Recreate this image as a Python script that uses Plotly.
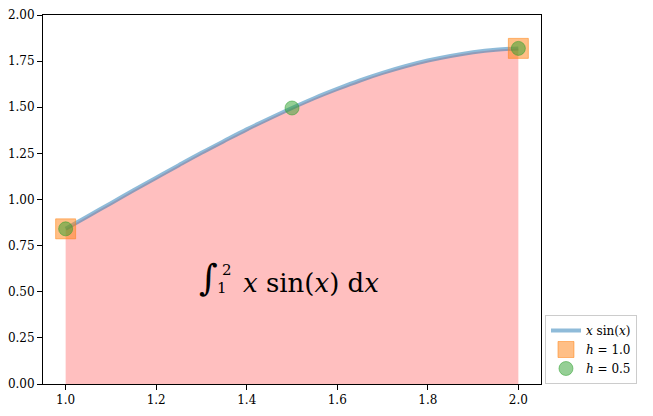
import plotly.graph_objects as go

# Data
x_curve = [1.00, 1.05, 1.10, 1.15, 1.20, 1.25, 1.30, 1.35, 1.40, 1.45, 1.50,
           1.55, 1.60, 1.65, 1.70, 1.75, 1.80, 1.85, 1.90, 1.95, 2.00]
y_curve = [0.841, 0.911, 0.980, 1.050, 1.118, 1.186, 1.253, 1.317, 1.380, 1.439, 1.496,
           1.550, 1.599, 1.645, 1.686, 1.722, 1.753, 1.778, 1.798, 1.812, 1.819]
x_h1 = [1.0, 2.0]
y_h1 = [0.841, 1.819]
x_h05 = [1.0, 1.5, 2.0]
y_h05 = [0.841, 1.496, 1.819]
x_ticks = [1.0, 1.2, 1.4, 1.6, 1.8, 2.0]
y_ticks = [0.0, 0.25, 0.5, 0.75, 1.0, 1.25, 1.5, 1.75, 2.0]
label_x = 1.5
label_y = 0.5

FONT = "DejaVu Serif"

fig = go.Figure()
fig.add_trace(go.Scatter(x=x_curve, y=y_curve, mode="lines", fill="tozeroy",
                         fillcolor="rgba(255,0,0,0.25)", line=dict(width=0, shape="spline"),
                         showlegend=False, hoverinfo="skip"))
fig.add_trace(go.Scatter(x=x_curve, y=y_curve, mode="lines", name="<i>x</i> sin(<i>x</i>)",
                         line=dict(color="rgba(31,119,180,0.5)", width=4, shape="spline")))
fig.add_trace(go.Scatter(x=x_h1, y=y_h1, mode="markers", name="<i>h</i> = 1.0",
                         marker=dict(symbol="square", size=20, color="rgba(255,127,14,0.5)",
                                     line=dict(color="rgba(255,127,14,0.5)", width=1))))
fig.add_trace(go.Scatter(x=x_h05, y=y_h05, mode="markers", name="<i>h</i> = 0.5",
                         marker=dict(symbol="circle", size=14, color="rgba(44,160,44,0.5)",
                                     line=dict(color="rgba(44,160,44,0.5)", width=1))))

# integral label: sign with stacked limits, then integrand
def part(text, size, dx, dy):
    fig.add_annotation(x=label_x, y=label_y, xref="x", yref="y",
                       xanchor="center", yanchor="middle", xshift=dx, yshift=dy,
                       text=text, showarrow=False,
                       font=dict(family=FONT, size=size, color="black"))

part("\u222B", 36, -84, 14)
part("2", 15, -65, 22)
part("1", 15, -70, 4)
part("<i>x</i> sin(<i>x</i>) d<i>x</i>", 26, 19, 9)

axis_common = dict(showgrid=False, zeroline=False, showline=True, linecolor="black",
                   linewidth=1, mirror=True, ticks="outside", ticklen=5, tickcolor="black",
                   automargin=False,
                   tickfont=dict(family=FONT, size=12, color="black"))
fig.update_xaxes(range=[0.95, 2.05], tickvals=x_ticks,
                 ticktext=[f"{v:.1f}" for v in x_ticks], **axis_common)
fig.update_yaxes(range=[0, 2.0], tickvals=y_ticks,
                 ticktext=[f"{v:.2f}" for v in y_ticks], **axis_common)

fig.update_layout(width=645, height=408, plot_bgcolor="white", paper_bgcolor="white",
                  margin=dict(l=35, r=112, t=7, b=32),
                  font=dict(family=FONT, color="black"),
                  legend=dict(x=1.008, y=0, xanchor="left", yanchor="bottom",
                              bordercolor="#cccccc", borderwidth=1, bgcolor="white",
                              font=dict(family=FONT, size=12), itemwidth=30,
                              tracegroupgap=0))
fig.write_html("out.html")
